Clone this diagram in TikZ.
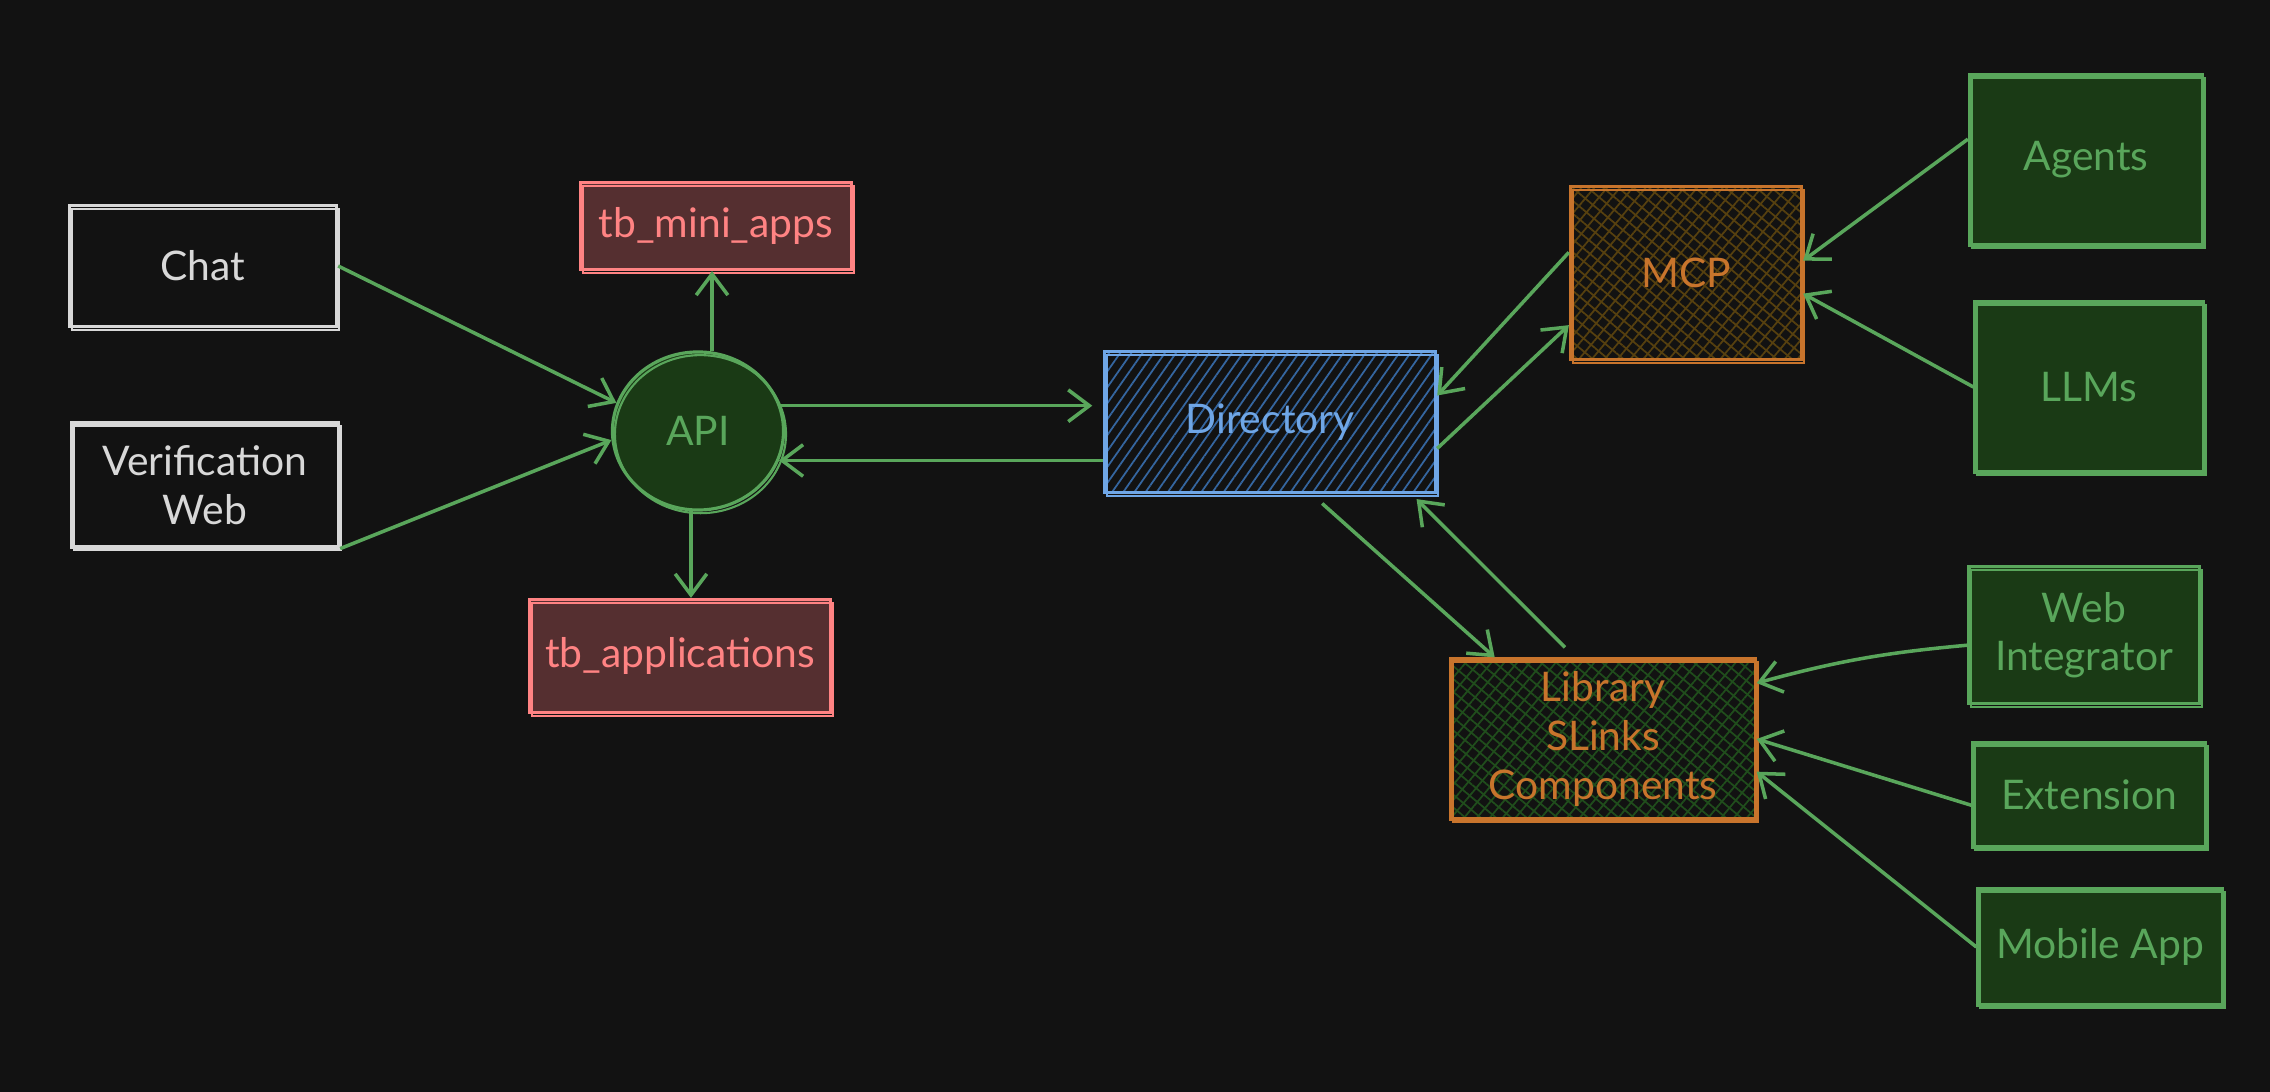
\documentclass[tikz,border=0pt]{standalone}
\usepackage{fontspec}
\setmainfont{Lato}
\usetikzlibrary{arrows.meta, shapes.geometric, patterns.meta, calc}

\definecolor{bg}{HTML}{121212}
\definecolor{inkwhite}{HTML}{D8D8D8}
\definecolor{inkred}{HTML}{FF8383}
\definecolor{fillred}{HTML}{552F30}
\definecolor{inkgreen}{HTML}{59A65B}
\definecolor{fillgreen}{HTML}{1A3A15}
\definecolor{inkblue}{HTML}{6FA6E6}
\definecolor{hatchblue}{HTML}{3566A0}
\definecolor{inkorange}{HTML}{C8742C}
\definecolor{hatchorange}{HTML}{56400F}
\definecolor{hatchgreen}{HTML}{204D1C}

\tikzset{
  sketch/.style={line width=0.9pt, postaction={draw, line width=0.6pt, transform canvas={shift={(0.7pt,-0.9pt)}}}},
  box/.style={rectangle, sketch, align=center, font=\fontsize{11.6}{13.8}\selectfont, inner sep=2pt},
  plainbox/.style={box, draw=inkwhite, text=inkwhite},
  tablebox/.style={box, draw=inkred, fill=fillred, text=inkred},
  clientbox/.style={box, draw=inkgreen, fill=fillgreen, text=inkgreen},
  dirbox/.style={box, draw=inkblue, text=inkblue,
    preaction={pattern={Lines[angle=55,distance=2.6pt,line width=0.5pt]}, pattern color=hatchblue}},
  mcpbox/.style={box, draw=inkorange, text=inkorange,
    preaction={pattern={Lines[angle=50,distance=2.8pt,line width=0.5pt]}, pattern color=hatchorange},
    preaction={pattern={Lines[angle=140,distance=2.8pt,line width=0.5pt]}, pattern color=hatchorange}},
  libbox/.style={box, draw=inkorange, text=inkorange,
    preaction={pattern={Lines[angle=50,distance=2.8pt,line width=0.5pt]}, pattern color=hatchgreen},
    preaction={pattern={Lines[angle=140,distance=2.8pt,line width=0.5pt]}, pattern color=hatchgreen}},
  flow/.style={draw=inkgreen, line width=1pt, -{Straight Barb[length=6pt,width=9pt,line width=1pt]}}
}

\begin{document}
\begin{tikzpicture}[x=0.01cm, y=-0.01cm]
    % canvas
    \fill[bg] (0,0) rectangle (2270,1092);
    \useasboundingbox (0,0) rectangle (2270,1092);

    % clients on the left
    \node[plainbox, minimum width=2.67cm, minimum height=1.21cm] (chat) at (203,266) {Chat};
    \node[plainbox, minimum width=2.67cm, minimum height=1.24cm] (verif) at (205,485) {Verification\\Web};

    % API and its tables
    \node[ellipse, sketch, draw=inkgreen, fill=fillgreen, text=inkgreen, font=\fontsize{11.6}{13.8}\selectfont,
      minimum width=1.71cm, minimum height=1.58cm, inner sep=0pt] (api) at (698,431) {API};
    \node[tablebox, minimum width=2.71cm, minimum height=0.87cm] (mini) at (716,226) {tb\_mini\_apps};
    \node[tablebox, minimum width=3.01cm, minimum height=1.13cm] (apps) at (680,656) {tb\_applications};

    % Directory, MCP, Library
    \node[dirbox, minimum width=3.31cm, minimum height=1.41cm] (dir) at (1270,422) {Directory};
    \node[mcpbox, minimum width=2.31cm, minimum height=1.73cm] (mcp) at (1686,273) {MCP};
    \node[libbox, minimum width=3.04cm, minimum height=1.60cm] (lib) at (1603,739) {Library\\SLinks\\Components};

    % clients on the right
    \node[clientbox, minimum width=2.33cm, minimum height=1.70cm] (agents) at (2086,160) {Agents};
    \node[clientbox, minimum width=2.28cm, minimum height=1.70cm] (llms) at (2089,387) {LLMs};
    \node[clientbox, minimum width=2.30cm, minimum height=1.37cm] (webint) at (2084,635) {Web\\Integrator};
    \node[clientbox, minimum width=2.32cm, minimum height=1.04cm] (ext) at (2089,795) {Extension};
    \node[clientbox, minimum width=2.44cm, minimum height=1.16cm] (mobile) at (2100,947) {Mobile App};

    % Left side
    \draw[flow] (chat.east) -- (api.161);
    \draw[flow] (verif.south east) -- (api.186);
    \draw[flow] (api.80) -- (api.80 |- mini.south);
    \draw[flow] (api.265) -- (api.265 |- apps.north);
    \draw[flow, shorten >=3pt] (api.17) -- (api.17 -| dir.west);
    \draw[flow] (api.-20 -| dir.west) -- (api.-20);

    % MCP
    \draw[flow] (mcp.170) -- (dir.9);
    \draw[flow] (dir.-9) -- (mcp.204);
    \draw[flow] (agents.170) -- (mcp.6);
    \draw[flow] (llms.west) -- (mcp.-10);

    % Library
    \draw[flow, shorten <=4pt] (dir.-60) -- (lib.143);
    \draw[flow, shorten <=4pt, shorten >=2pt] (lib.109) -- (dir.-27);
    \draw[flow] (webint.185) to[bend right=5] (lib.20);
    \draw[flow] (ext.185) -- (lib.east);
    \draw[flow] (mobile.west) -- (lib.-12);
\end{tikzpicture}
\end{document}
